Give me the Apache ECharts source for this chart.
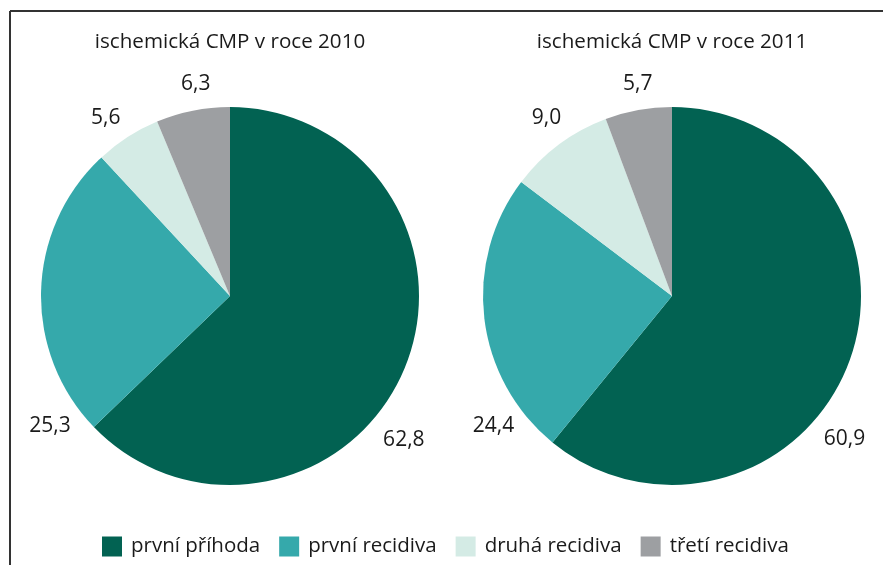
<!DOCTYPE html>
<html>
<head>
<meta charset="utf-8">
<script src="https://cdn.jsdelivr.net/npm/echarts@6/dist/echarts.min.js"></script>
<style>
html,body{margin:0;padding:0;background:#fff;}
#chart{width:883px;height:565px;}
</style>
</head>
<body>
<div id="chart"></div>
<script>
// ---- data ----
const categories = ['první příhoda', 'první recidiva', 'druhá recidiva', 'třetí recidiva'];
const titles = ['ischemická CMP v roce 2010', 'ischemická CMP v roce 2011'];
const values2010 = [62.8, 25.3, 5.6, 6.3];
const values2011 = [60.9, 24.4, 9.0, 5.7];

// ---- styling ----
const colors = ['#026252', '#35a9ab', '#d4ebe5', '#9d9fa2'];
const FONT = '"Open Sans", sans-serif';
const centersX = [230, 672];
const labelNudges = [
  [[-24, 60], [35, 136], [-8, 3], [8, -1]],
  [[-30, 71], [35, 104], [3, -6], [4, 0]]
];

const chart = echarts.init(document.getElementById('chart'), null, {renderer: 'canvas'});

function makeSeries(idx, values) {
  return {
    type: 'pie',
    name: titles[idx],
    center: [centersX[idx], 296],
    radius: 189,
    startAngle: 90,
    clockwise: true,
    avoidLabelOverlap: false,
    animation: false,
    itemStyle: {borderWidth: 0},
    emphasis: {disabled: true},
    label: {
      show: true,
      position: 'outside',
      formatter: p => p.value.toFixed(1).replace('.', ','),
      fontFamily: FONT,
      fontSize: 21,
      color: '#1a1a1a',
      distanceToLabelLine: 0
    },
    labelLine: {show: false, length: 26, length2: 0},
    labelLayout: function (params) {
      const n = labelNudges[params.seriesIndex][params.dataIndex];
      return {align: 'center', verticalAlign: 'middle', dx: n[0], dy: n[1]};
    },
    data: categories.map((c, i) => ({name: c, value: values[i]}))
  };
}

const option = {
  color: colors,
  backgroundColor: '#ffffff',
  animation: false,
  title: titles.map((t, i) => ({
    text: t,
    left: centersX[i],
    top: 32,
    textAlign: 'center',
    padding: 0,
    textStyle: {fontFamily: FONT, fontSize: 20.6, fontWeight: 'normal', color: '#1a1a1a'}
  })),
  legend: {
    data: categories,
    left: 102,
    top: 536,
    padding: 0,
    itemWidth: 20,
    itemHeight: 20,
    itemGap: 19,
    icon: 'rect',
    selectedMode: false,
    textStyle: {fontFamily: FONT, fontSize: 20.5, color: '#1a1a1a', padding: [0, 0, 0, 4]}
  },
  graphic: [
    {type: 'line', shape: {x1: 10, y1: 11, x2: 883, y2: 11}, style: {stroke: '#333', lineWidth: 2}},
    {type: 'line', shape: {x1: 10, y1: 11, x2: 10, y2: 565}, style: {stroke: '#333', lineWidth: 2}}
  ],
  series: [makeSeries(0, values2010), makeSeries(1, values2011)]
};
chart.setOption(option);
</script>
</body>
</html>
